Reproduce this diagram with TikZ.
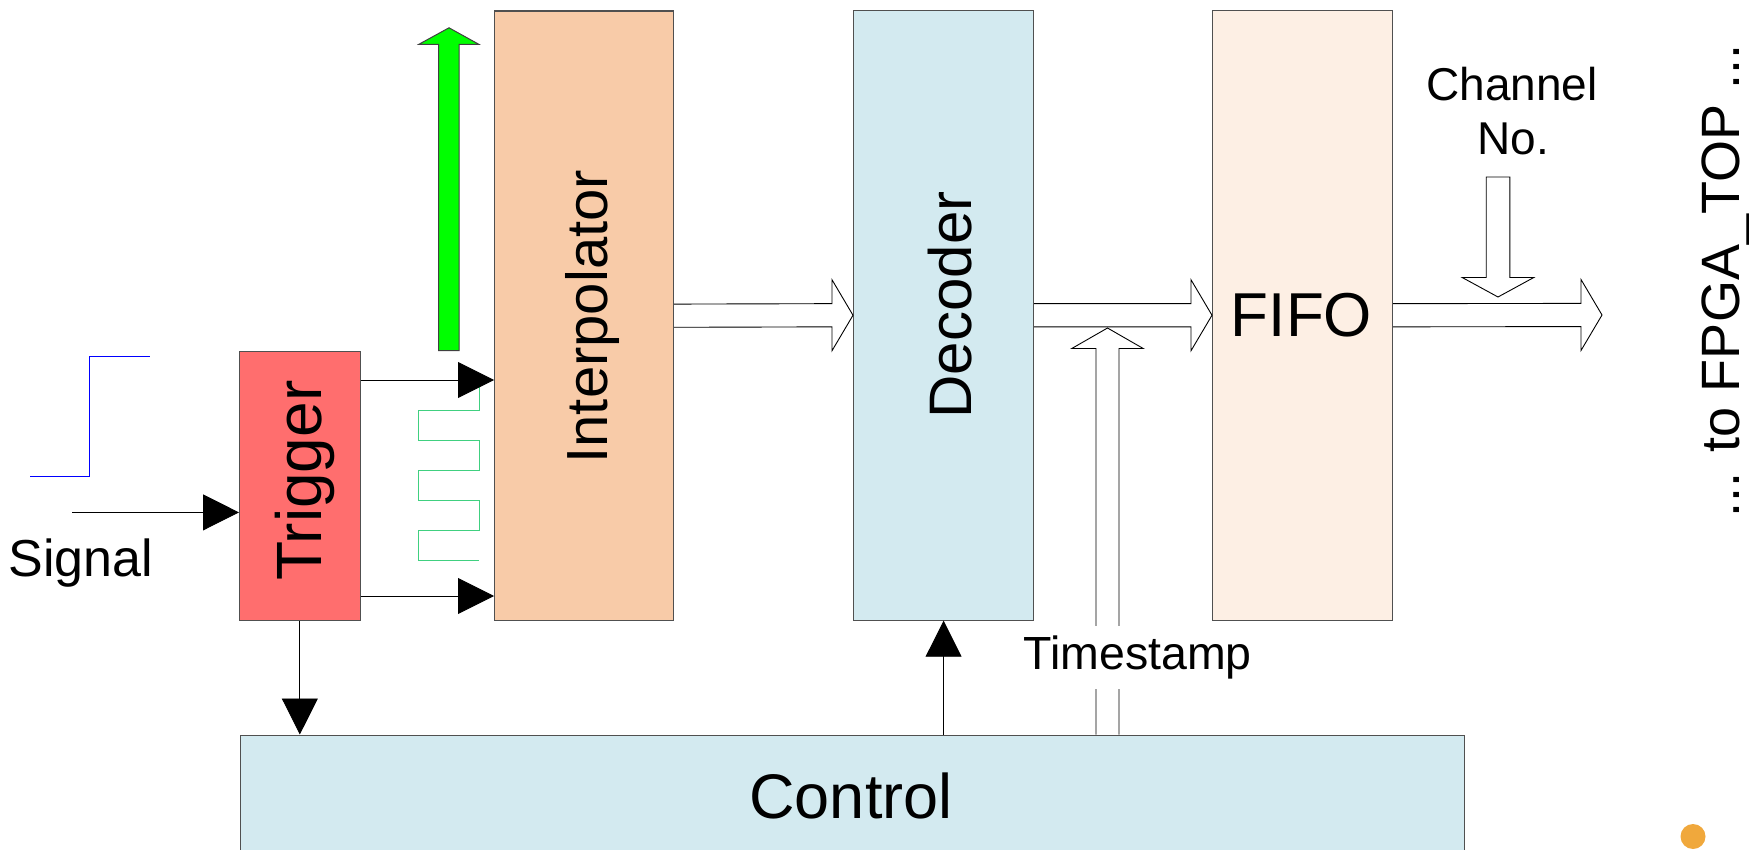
\documentclass[tikz,border=0pt]{standalone}
\usepackage{fontspec}
\setmainfont{Liberation Sans}
\usetikzlibrary{arrows.meta,calc}
\definecolor{boxline}{HTML}{505050}
\definecolor{trigfill}{HTML}{FF6E6E}
\definecolor{interpfill}{HTML}{F8CBA8}
\definecolor{decfill}{HTML}{D3EAF0}
\definecolor{fifofill}{HTML}{FDEFE4}
\definecolor{clkgreen}{HTML}{40D080}
\definecolor{dotorange}{HTML}{F0A83C}
% hollow bus arrow pointing right, from #1 to the tip #2
\newcommand\busarrowright[2]{%
  \draw[hollow] ([yshift=11.6pt]#1) -- ([xshift=-21pt,yshift=11.6pt]#2)
    -- ([xshift=-21pt,yshift=35.5pt]#2) -- (#2)
    -- ([xshift=-21pt,yshift=-35.5pt]#2) -- ([xshift=-21pt,yshift=-11.6pt]#2)
    -- ([yshift=-11.6pt]#1);}
\begin{document}
\begin{tikzpicture}[x=1pt,y=-1pt,
  box/.style={draw=boxline, line width=1.2pt, inner sep=0pt, anchor=north west},
  wire/.style={line width=0.9pt, black},
  tip/.style={-{Triangle[length=36pt,width=36pt]}},
  hollow/.style={draw=black, line width=0.9pt, fill=white, line join=miter},
  lbl/.style={inner sep=0pt, text=black}]
\clip (0,0) rectangle (1749,850);

% blocks
\node[box, fill=trigfill,   minimum width=120.5pt, minimum height=269pt]   (trig)   at (239,350.7) {};
\node[box, fill=interpfill, minimum width=179pt,   minimum height=609.4pt] (interp) at (494,10.4) {};
\node[box, fill=decfill,    minimum width=180pt,   minimum height=609.7pt] (dec)    at (853,9.8) {};
\node[box, fill=fifofill,   minimum width=180pt,   minimum height=609.7pt] (fifo)   at (1212,9.8) {};
\node[box, fill=decfill,    minimum width=1223.5pt, minimum height=150pt]  (ctrl)   at (240,734.5) {};

% block labels
\node[lbl, rotate=90, anchor=base, font=\fontsize{64}{64}\selectfont] (trigtxt) at (321.4,480.8) {Trigger};
\node[lbl, rotate=90, anchor=base, font=\fontsize{58}{58}\selectfont] (interptxt) at (607,316.7) {Interpolator};
\node[lbl, rotate=90, anchor=base, font=\fontsize{60}{60}\selectfont] (dectxt) at (971,305) {Decoder};
\node[lbl, anchor=base, font=\fontsize{62}{62}\selectfont] (fifotxt) at (1301.5,337) {FIFO};
\node[lbl, anchor=base, font=\fontsize{63}{63}\selectfont] (ctrltxt) at (851,818.4) {Control};

% input step and signal
\draw[blue, line width=0.9pt] (30,476.4) -- (89.5,476.4) -- (89.5,356.6) -- (149.7,356.6);
\coordinate (sigin) at (72,512.4);
\draw[wire,tip] (sigin) -- (sigin -| trig.west);
\node[lbl, anchor=base, font=\fontsize{52}{52}\selectfont] (sigtxt) at (80.7,576) {Signal};

% clock wave between trigger and interpolator
\draw[clkgreen, line width=1pt] (479,385) -- (479,410.4) -- (418.7,410.4) -- (418.7,440.3)
  -- (479,440.3) -- (479,470.6) -- (418.7,470.6) -- (418.7,500.4) -- (479,500.4)
  -- (479,530.3) -- (418.7,530.3) -- (418.7,560.1) -- (479,560.1);

% trigger outputs
\coordinate (hi) at (0,380);
\coordinate (lo) at (0,596);
\draw[wire,tip] (trig.east |- hi) -- (interp.west |- hi);
\draw[wire,tip] (trig.east |- lo) -- (interp.west |- lo);
\draw[wire,tip] (trig.south) -- (trig.south |- ctrl.north);
\draw[wire,tip] (dec.south |- ctrl.north) -- (dec.south);

% green upward arrow
\draw[fill=green, draw=black!75, line width=1pt, line join=miter]
  (438.5,350.7) -- (438.5,44.4) -- (418.7,44.4) -- (449,27.8) -- (479,44.4)
  -- (459,44.4) -- (459,350.7) -- cycle;

% data buses
\coordinate (out) at (1602,315);
\busarrowright{interp.east}{dec.west}
\busarrowright{dec.east}{fifo.west}
\busarrowright{fifo.east}{out}

% channel number bus
\coordinate (chtop) at (1498,177);
\coordinate (chtip) at (1498,297);
\draw[hollow] ([xshift=-11.8pt]chtop) -- ([xshift=-11.8pt,yshift=19.5pt]chtip)
  -- ([xshift=-35.8pt,yshift=19.5pt]chtip) -- (chtip)
  -- ([xshift=35.8pt,yshift=19.5pt]chtip) -- ([xshift=11.8pt,yshift=19.5pt]chtip)
  -- ([xshift=11.8pt]chtop) -- cycle;
\node[lbl, anchor=base, font=\fontsize{46}{46}\selectfont] (chan1) at (1512,100.3) {Channel};
\node[lbl, anchor=base, font=\fontsize{46}{46}\selectfont] (chan2) at (1513,154.5) {No.};

% timestamp bus
\coordinate (tsbase) at (ctrl.north -| 1107.5,0);
\coordinate (tstip) at (1107.5,328);
\draw[hollow] ([xshift=-11.5pt]tsbase) -- ([xshift=-11.5pt,yshift=-20.5pt]tstip)
  -- ([xshift=-35.7pt,yshift=-20.5pt]tstip) -- (tstip)
  -- ([xshift=35.7pt,yshift=-20.5pt]tstip) -- ([xshift=11.5pt,yshift=-20.5pt]tstip)
  -- ([xshift=11.5pt]tsbase);
\node[lbl, anchor=base, fill=white, inner xsep=2pt, inner ysep=10pt,
  font=\fontsize{46.5}{46.5}\selectfont] (tstxt) at (1137.7,669.3) {Timestamp};

% destination
\node[lbl, rotate=90, anchor=base, font=\fontsize{54}{54}\selectfont] (fpga) at (1739,281) {... to FPGA\_TOP ...};

% corner dot
\fill[dotorange] (1693,836.5) circle (12.5);
\end{tikzpicture}
\end{document}
